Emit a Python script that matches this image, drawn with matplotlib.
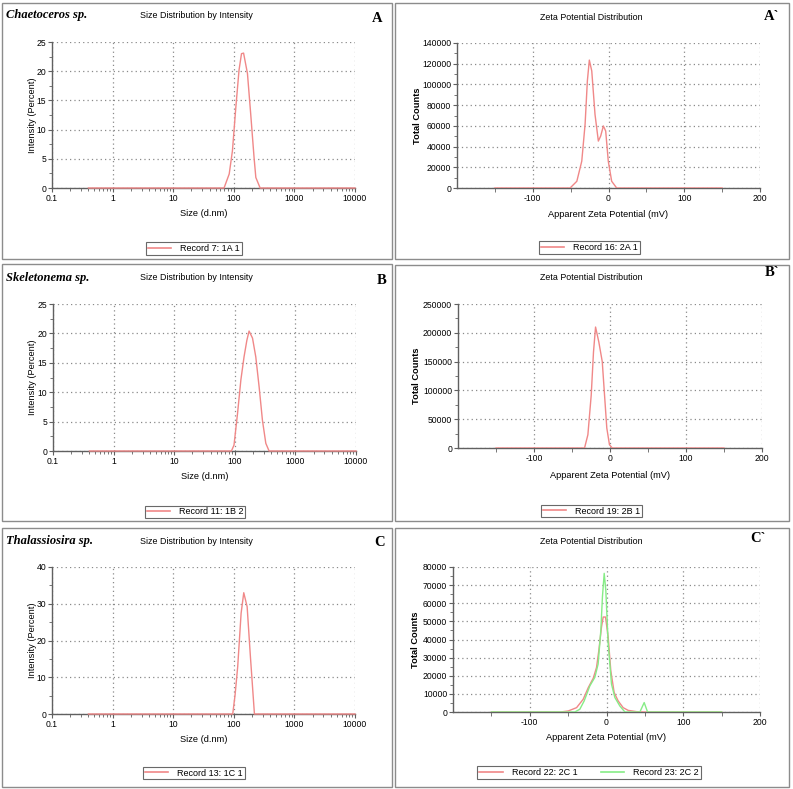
import matplotlib
matplotlib.use('Agg')
import matplotlib.pyplot as plt
from matplotlib.patches import Rectangle
from matplotlib.lines import Line2D
from matplotlib.ticker import MultipleLocator, LogLocator, NullFormatter, FuncFormatter, FixedLocator

# ---------------- data ----------------
size_A = [0.4, 69, 84, 95, 108, 122, 134, 145, 168, 190, 216, 231, 272, 10000]
int_A = [0, 0, 2.4, 6.4, 13.8, 20.2, 23.0, 23.1, 19.6, 12.7, 5.2, 1.8, 0, 0]

size_B = [0.4, 88, 97, 111, 126, 142, 158, 172, 196, 222, 252, 286, 325, 368, 10000]
int_B = [0, 0, 1.0, 6.4, 12.1, 16.0, 18.8, 20.4, 19.2, 16.0, 10.9, 5.2, 1.3, 0, 0]

size_C = [0.4, 96, 105, 116, 132, 146, 166, 188, 219, 10000]
int_C = [0, 0, 5.2, 12.9, 27.4, 33.0, 29.2, 15.6, 0, 0]

zeta_A = [-150, -50.7, -41.8, -35.3, -30.9, -27.9, -25.3, -22.1, -17.8, -13.4, -10.3, -6.8, -3.7, -0.3, 4.2, 10.8, 150]
counts_A = [0, 0, 6500, 25900, 61600, 103400, 123500, 113000, 71000, 45300, 50200, 59900, 55000, 25900, 6500, 0, 0]

zeta_B = [-150, -33.5, -29.1, -24.7, -21.7, -19.0, -14.7, -10.2, -7.2, -4.2, -0.7, 2.9, 150]
counts_B = [0, 0, 23000, 92000, 167000, 210000, 184000, 150000, 92000, 34500, 5700, 0, 0]

zeta_C1 = [-150, -60, -50, -39, -30.4, -23.7, -17.2, -13, -10, -6.5, -4.3, -1.3, 2.2, 5.6, 10, 15.2, 21.7, 28.2, 39, 47.8, 150]
counts_C1 = [0, 0, 550, 2400, 7000, 13500, 18700, 24600, 33900, 46900, 52400, 52400, 41300, 22800, 10700, 6100, 2400, 900, 200, 0, 0]

zeta_C2 = [-150, -41.3, -34.8, -29.1, -21.7, -15.2, -10.9, -7.4, -5.3, -3.0, -0.9, 2.2, 6.5, 10.9, 17.4, 24, 43.5, 49.1, 53.5, 150]
counts_C2 = [0, 0, 1500, 6100, 14400, 19100, 26500, 45000, 63500, 76500, 67200, 37600, 15400, 8000, 3300, 0, 0, 5200, 0, 0]

size_ticks = [0.1, 1, 10, 100, 1000, 10000]
zeta_ticks = [-100, 0, 100, 200]

species = ["Chaetoceros sp.", "Skeletonema sp.", "Thalassiosira sp."]
letters_left = ["A", "B", "C"]
letters_right = ["A`", "B`", "C`"]
rec_left = ["Record 7: 1A 1", "Record 11: 1B 2", "Record 13: 1C 1"]
rec_right = ["Record 16: 2A 1", "Record 19: 2B 1", "Record 22: 2C 1", "Record 23: 2C 2"]

# ---------------- style ----------------
SANS = ['Liberation Sans', 'DejaVu Sans']
SERIF = ['Liberation Serif', 'DejaVu Serif']
plt.rcParams['font.family'] = SANS
plt.rcParams['axes.unicode_minus'] = False
RED = '#f08888'
GREEN = '#86ec86'
GRID = '#8a8a8a'
SPINE = '#606060'
FS = 6.2

W, H = 793, 789
fig = plt.figure(figsize=(W / 100, H / 100), dpi=100)
fig.patch.set_facecolor('white')


def fx(x):
    return x / W


def fy(y):
    return 1 - y / H


def ax_at(l, r, t, b):
    return fig.add_axes([l / W, 1 - b / H, (r - l) / W, (b - t) / H])


def style(ax):
    for s in ['top', 'right']:
        ax.spines[s].set_visible(False)
    for s in ['left', 'bottom']:
        ax.spines[s].set_color(SPINE)
        ax.spines[s].set_linewidth(1.0)
    ax.grid(True, which='major', color=GRID, linestyle=(0, (1, 2.5)), linewidth=0.9)
    ax.tick_params(which='major', direction='out', length=3, color=SPINE, labelsize=FS, pad=1.2)
    ax.tick_params(which='minor', direction='out', length=2, color=SPINE)
    ax.set_axisbelow(True)


def frame(x0, y0, x1, y1):
    fig.add_artist(Rectangle((fx(x0), fy(y1)), (x1 - x0) / W, (y1 - y0) / H,
                             transform=fig.transFigure, fill=False,
                             edgecolor='#8c8c8c', linewidth=1.0))


def legend(ax, handles, labels, cx, cy, ncol=1):
    lg = ax.legend(handles, labels, loc='center', bbox_to_anchor=(fx(cx), fy(cy)),
                   bbox_transform=fig.transFigure, frameon=True, fancybox=False,
                   edgecolor='#444444', fontsize=FS + 0.3, handlelength=2.6, handletextpad=1.0,
                   borderpad=0.2, ncol=ncol, columnspacing=2.6, borderaxespad=0)
    lg.get_frame().set_linewidth(0.8)


# frames
frame(2, 3, 392, 259)
frame(2, 264, 392, 521)
frame(2, 528, 392, 787)
frame(395, 3, 789, 259)
frame(395, 265, 789, 521)
frame(395, 528, 789, 787)

# ---------------- size panels ----------------
size_specs = [
    # l, r, t, b, data x, data y, ymax, ymajor, title_y, leg_cx, leg_cy
    (52, 355, 42, 188, size_A, int_A, 25, 5, 15, 194, 248.5),
    (53, 356, 304, 451, size_B, int_B, 25, 5, 278, 195, 512),
    (52, 355, 567, 714, size_C, int_C, 40, 10, 541, 194, 773),
]
letter_pos_left = [(377, 18), (382, 281), (380, 542)]

for i, (l, r, t, b, xs, ys, ymax, ymaj, ty, lcx, lcy) in enumerate(size_specs):
    ax = ax_at(l, r, t, b)
    style(ax)
    ax.set_xscale('log')
    ax.set_xlim(0.1, 10000)
    ax.set_ylim(0, ymax)
    ax.xaxis.set_major_locator(FixedLocator(size_ticks))
    ax.xaxis.set_major_formatter(FuncFormatter(lambda v, p: '%g' % v))
    ax.xaxis.set_minor_locator(LogLocator(base=10, subs=range(2, 10)))
    ax.xaxis.set_minor_formatter(NullFormatter())
    ax.yaxis.set_major_locator(MultipleLocator(ymaj))
    ax.yaxis.set_minor_locator(MultipleLocator(ymaj / 2))
    ax.plot(xs, ys, color=RED, linewidth=1.0, clip_on=False, zorder=3)
    ax.set_xlabel('Size (d.nm)', fontsize=FS + 0.5)
    ax.set_ylabel('Intensity (Percent)', fontsize=FS + 0.5)
    ax.xaxis.set_label_coords(0.5, -21 / (b - t))
    ax.yaxis.set_label_coords(-(l - 37) / (r - l), 0.5)
    fig.text(fx(196), fy(ty), 'Size Distribution by Intensity', fontsize=6.4,
             ha='center', va='center')
    fig.text(fx(6), fy(ty), species[i], fontsize=9.0, family=SERIF,
             fontweight='bold', fontstyle='italic', ha='left', va='center')
    lx, ly = letter_pos_left[i]
    fig.text(fx(lx), fy(ly), letters_left[i], fontsize=10.5, family=SERIF,
             fontweight='bold', ha='center', va='center')
    legend(ax, [Line2D([], [], color=RED, lw=1.2)], [rec_left[i]], lcx, lcy)

# ---------------- zeta panels ----------------
zeta_specs = [
    # l, r, t, b, ymax, ymajor, title_y, leg_cx, leg_cy, ylabel right edge x, xlabel offset
    (457, 760, 43, 188, 140000, 20000, 17, 589.5, 247.5, 422, 22),
    (458, 762, 304, 448, 250000, 50000, 278, 591.5, 511, 421, 23),
    (453, 760, 567, 712, 80000, 10000, 541, 589, 772.5, 420, 21),
]
letter_pos_right = [(772, 17), (772, 272), (758, 538)]

for i, (l, r, t, b, ymax, ymaj, ty, lcx, lcy, ylx, xlo) in enumerate(zeta_specs):
    ax = ax_at(l, r, t, b)
    style(ax)
    ax.set_xlim(-200, 200)
    ax.set_ylim(0, ymax)
    ax.xaxis.set_major_locator(FixedLocator(zeta_ticks))
    ax.xaxis.set_minor_locator(FixedLocator([-150, -50, 50, 150]))
    ax.tick_params(axis='x', which='minor', length=3)
    ax.yaxis.set_major_locator(MultipleLocator(ymaj))
    ax.yaxis.set_minor_locator(MultipleLocator(ymaj / 2))
    ax.yaxis.set_major_formatter(FuncFormatter(lambda v, p: '%d' % v))
    if i == 0:
        ax.plot(zeta_A, counts_A, color=RED, linewidth=1.0, zorder=3)
        handles = [Line2D([], [], color=RED, lw=1.2)]
        labels = [rec_right[0]]
        ncol = 1
    elif i == 1:
        ax.plot(zeta_B, counts_B, color=RED, linewidth=1.0, zorder=3)
        handles = [Line2D([], [], color=RED, lw=1.2)]
        labels = [rec_right[1]]
        ncol = 1
    else:
        ax.plot(zeta_C1, counts_C1, color=RED, linewidth=1.0, zorder=3)
        ax.plot(zeta_C2, counts_C2, color=GREEN, linewidth=1.0, zorder=4)
        handles = [Line2D([], [], color=RED, lw=1.2), Line2D([], [], color=GREEN, lw=1.2)]
        labels = [rec_right[2], rec_right[3]]
        ncol = 2
    ax.set_xlabel('Apparent Zeta Potential (mV)', fontsize=FS + 0.5)
    ax.set_ylabel('Total Counts', fontsize=FS + 0.5, fontweight='bold')
    ax.xaxis.set_label_coords(0.5, -xlo / (b - t))
    ax.yaxis.set_label_coords(-(l - ylx) / (r - l), 0.5)
    fig.text(fx(591), fy(ty), 'Zeta Potential Distribution', fontsize=6.4,
             ha='center', va='center')
    lx, ly = letter_pos_right[i]
    fig.text(fx(lx), fy(ly), letters_right[i], fontsize=10.5, family=SERIF,
             fontweight='bold', ha='center', va='center')
    legend(ax, handles, labels, lcx, lcy, ncol=ncol)

fig.savefig('out.png', dpi=100, facecolor='white')
